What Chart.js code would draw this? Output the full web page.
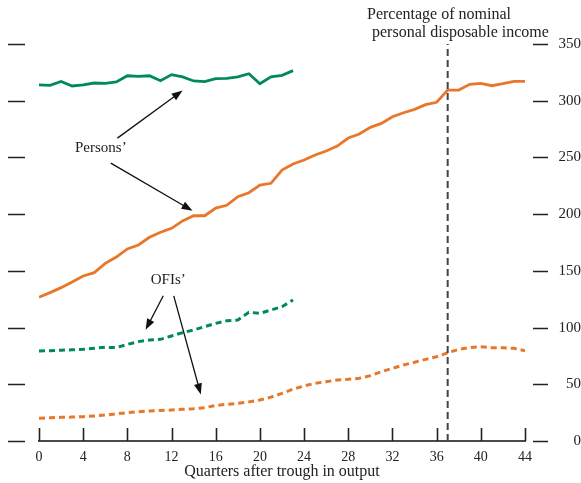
<!DOCTYPE html>
<html>
<head>
<meta charset="utf-8">
<script src="https://cdn.jsdelivr.net/npm/chart.js@4.4.1/dist/chart.umd.min.js"></script>
<style>
  html, body { margin: 0; padding: 0; background: #fff; }
  #wrap { width: 581px; height: 483px; }
</style>
</head>
<body>
<div id="wrap"><canvas id="debtChart" width="581" height="483"></canvas></div>
<script>
// quarters after trough in output
const quarters = [0,1,2,3,4,5,6,7,8,9,10,11,12,13,14,15,16,17,18,19,20,21,22,23,24,25,26,27,28,29,30,31,32,33,34,35,36,37,38,39,40,41,42,43,44];
const xTicks = [0,4,8,12,16,20,24,28,32,36,40,44];
const yTicks = [0,50,100,150,200,250,300,350];

// persons' debt, % of nominal personal disposable income
const personsGreen = [313.9,313.6,317.0,313.0,314.0,315.6,315.3,316.5,322.0,321.5,322.0,317.6,323.0,321.0,317.4,316.8,319.4,319.7,321.0,323.8,315.0,321.0,322.4,326.5];
const personsOrange = [126.7,130.8,135.2,140.2,145.5,148.4,156.6,162.2,169.3,172.8,179.6,184.0,187.5,194.0,198.6,198.6,205.4,207.8,215.4,218.9,225.7,227.2,238.9,244.2,247.7,252.1,255.7,260.0,267.1,270.6,276.5,280.0,285.9,289.4,292.4,296.5,298.6,309.4,309.4,314.5,315.3,313.2,315.0,317.1,317.1];

// OFIs' debt
const ofisGreen = [79.3,79.6,80.0,80.4,80.8,81.8,82.6,82.3,85.2,87.6,89.0,89.6,92.6,95.5,97.9,100.8,103.7,106.0,106.7,113.5,112.6,115.5,118.4,124.3];
const ofisOrange = [20.0,20.4,20.9,21.1,21.4,22.1,22.9,23.9,25.0,25.8,26.5,26.9,27.3,27.9,28.5,29.4,31.4,32.3,33.2,34.5,36.1,38.7,42.0,45.7,48.5,50.9,52.3,53.8,54.4,55.3,57.6,61.1,64.1,67.0,69.4,72.0,74.3,77.8,80.8,82.3,83.1,82.3,82.3,81.7,79.6];

const breakQuarter = 37;

const GREEN = '#008a5c';
const ORANGE = '#e8772a';
const FONT = '"Liberation Serif", "DejaVu Serif", serif';

function pts(vals) {
    return vals.map((v, i) => ({ x: quarters[i], y: v }));
}

// labels and arrows, in data units
const labels = [
    { text: 'Persons\u2019', x: 5.6, y: 258 },
    { text: 'OFIs\u2019', x: 11.7, y: 142 }
];
const arrows = [
    { from: [7.1, 267], to: [13.0, 309] },
    { from: [6.5, 245], to: [13.9, 203] },
    { from: [11.25, 128], to: [9.65, 98] },
    { from: [12.2, 128], to: [14.65, 41] }
];

const extras = {
    id: 'extras',
    afterDraw(chart) {
        const ctx = chart.ctx;
        const xs = chart.scales.x, ys = chart.scales.y;
        const area = chart.chartArea;
        ctx.save();
        ctx.strokeStyle = '#222';
        ctx.lineWidth = 1.6;
        // left and right y tick dashes
        yTicks.forEach(v => {
            const py = Math.round(ys.getPixelForValue(v)) + 0.5;
            ctx.beginPath();
            ctx.moveTo(area.left - 31, py); ctx.lineTo(area.left - 14, py);
            ctx.moveTo(area.right + 8, py); ctx.lineTo(area.right + 23, py);
            ctx.stroke();
        });
        // x ticks pointing up from axis
        xTicks.forEach(v => {
            const px = Math.round(xs.getPixelForValue(v)) + 0.5;
            ctx.beginPath();
            ctx.moveTo(px, area.bottom); ctx.lineTo(px, area.bottom - 13);
            ctx.stroke();
        });
        // top title
        ctx.fillStyle = '#222';
        ctx.font = '16px ' + FONT;
        ctx.textAlign = 'left';
        ctx.textBaseline = 'middle';
        ctx.fillText('Percentage of nominal', 367, 15);
        ctx.fillText('personal disposable income', 372, 33);
        // annotations
        ctx.font = '15px ' + FONT;
        ctx.textAlign = 'center';
        labels.forEach(l => ctx.fillText(l.text, xs.getPixelForValue(l.x), ys.getPixelForValue(l.y)));
        ctx.lineWidth = 1.3;
        ctx.fillStyle = '#111';
        ctx.strokeStyle = '#111';
        arrows.forEach(a => {
            const x1 = xs.getPixelForValue(a.from[0]), y1 = ys.getPixelForValue(a.from[1]);
            const x2 = xs.getPixelForValue(a.to[0]), y2 = ys.getPixelForValue(a.to[1]);
            const ang = Math.atan2(y2 - y1, x2 - x1);
            ctx.beginPath();
            ctx.moveTo(x1, y1);
            ctx.lineTo(x2 - 8 * Math.cos(ang), y2 - 8 * Math.sin(ang));
            ctx.stroke();
            ctx.beginPath();
            ctx.moveTo(x2, y2);
            ctx.lineTo(x2 - 11 * Math.cos(ang) + 4 * Math.sin(ang), y2 - 11 * Math.sin(ang) - 4 * Math.cos(ang));
            ctx.lineTo(x2 - 11 * Math.cos(ang) - 4 * Math.sin(ang), y2 - 11 * Math.sin(ang) + 4 * Math.cos(ang));
            ctx.closePath();
            ctx.fill();
        });
        ctx.restore();
    }
};

const ctx = document.getElementById('debtChart').getContext('2d');
const debtChart = new Chart(ctx, {
    type: 'line',
    data: {
        datasets: [
            {
                label: 'break',
                data: [{ x: breakQuarter, y: 0 }, { x: breakQuarter, y: 350 }],
                borderColor: '#444',
                borderWidth: 2,
                borderDash: [7, 4],
                pointRadius: 0
            },
            {
                label: 'Persons green',
                data: pts(personsGreen),
                borderColor: GREEN,
                borderWidth: 2.8,
                pointRadius: 0
            },
            {
                label: 'Persons orange',
                data: pts(personsOrange),
                borderColor: ORANGE,
                borderWidth: 2.8,
                pointRadius: 0
            },
            {
                label: 'OFIs green',
                data: pts(ofisGreen),
                borderColor: GREEN,
                borderWidth: 3,
                borderDash: [6, 4],
                pointRadius: 0
            },
            {
                label: 'OFIs orange',
                data: pts(ofisOrange),
                borderColor: ORANGE,
                borderWidth: 3,
                borderDash: [6, 4],
                pointRadius: 0
            }
        ]
    },
    options: {
        responsive: false,
        animation: false,
        layout: { padding: { left: 39, top: 44, right: 0, bottom: 0 } },
        plugins: {
            legend: { display: false },
            tooltip: { enabled: false }
        },
        scales: {
            x: {
                type: 'linear',
                min: 0,
                max: 44,
                afterBuildTicks: s => { s.ticks = xTicks.map(v => ({ value: v })); },
                afterFit: s => { s.height = 42; },
                grid: { display: false },
                border: { display: true, color: '#4a4a4a', width: 2 },
                ticks: { color: '#222', font: { family: FONT, size: 14 }, padding: 0, maxRotation: 0 },
                title: {
                    display: true,
                    text: 'Quarters after trough in output',
                    color: '#222',
                    font: { family: FONT, size: 16 },
                    padding: { top: 0, bottom: 2 }
                }
            },
            y: {
                position: 'right',
                min: 0,
                max: 350,
                afterBuildTicks: s => { s.ticks = yTicks.map(v => ({ value: v })); },
                afterFit: s => { s.width = 56; },
                grid: { display: false },
                border: { display: false },
                ticks: { color: '#222', font: { family: FONT, size: 15 }, padding: 27, crossAlign: 'far' }
            }
        }
    },
    plugins: [extras]
});
</script>
</body>
</html>
